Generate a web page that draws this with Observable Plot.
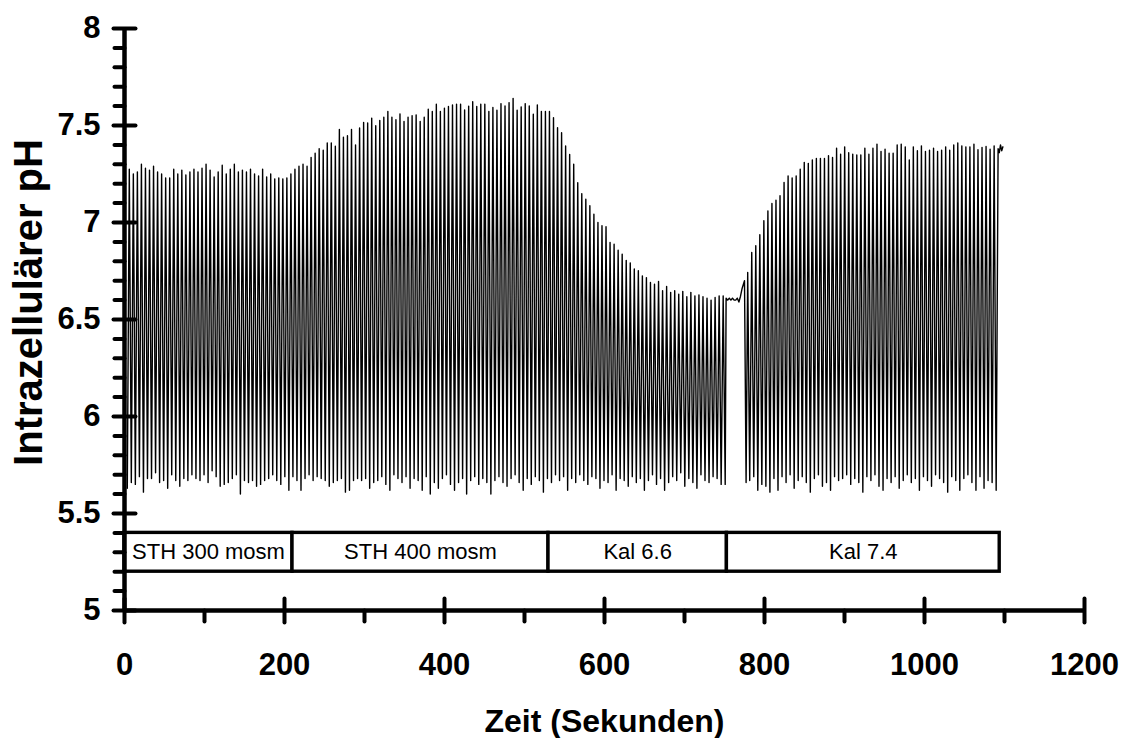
<!DOCTYPE html>
<html>
<head>
<meta charset="utf-8">
<script src="https://cdn.jsdelivr.net/npm/d3@7"></script>
<script src="https://cdn.jsdelivr.net/npm/@observablehq/plot@0.6"></script>
<style>
  html, body { margin: 0; padding: 0; background: #fff; }
  #chart svg { display: block; }
</style>
</head>
<body>
<div id="chart"></div>
<script>
// ---- Data ----
// Oscillation: one peak and one trough per cycle, cycle length (s)
const cyclePeriod = 5.05;

// Segment A (STH 300 / STH 400 / Kal 6.6), first peak time (s)
const startA = 6;
const firstTrough = { t: 3.5, v: 5.63 };
const peaksA = [
  7.275, 7.25, 7.26, 7.30, 7.28, 7.27, 7.29, 7.26, 7.25, 7.23,
  7.23, 7.275, 7.25, 7.27, 7.245, 7.26, 7.275, 7.26, 7.28, 7.30,
  7.27, 7.235, 7.26, 7.295, 7.25, 7.275, 7.30, 7.26, 7.27, 7.26,
  7.275, 7.25, 7.24, 7.275, 7.235, 7.25, 7.225, 7.23, 7.225, 7.23,
  7.25, 7.275, 7.29, 7.30, 7.29, 7.335, 7.357, 7.38, 7.373, 7.41,
  7.41, 7.393, 7.479, 7.44, 7.447, 7.479, 7.40, 7.487, 7.516, 7.513,
  7.538, 7.499, 7.526, 7.543, 7.572, 7.543, 7.53, 7.56, 7.521, 7.543,
  7.55, 7.555, 7.521, 7.543, 7.584, 7.572, 7.61, 7.572, 7.589, 7.598,
  7.606, 7.61, 7.61, 7.58, 7.60, 7.623, 7.598, 7.61, 7.61, 7.572,
  7.593, 7.579, 7.613, 7.601, 7.618, 7.64, 7.579, 7.596, 7.613, 7.601,
  7.558, 7.606, 7.572, 7.572, 7.572, 7.54, 7.489, 7.463, 7.394, 7.351,
  7.30, 7.205, 7.149, 7.12, 7.086, 7.043, 7.00, 6.983, 6.978, 6.897,
  6.888, 6.857, 6.837, 6.805, 6.792, 6.76, 6.751, 6.725, 6.716, 6.691,
  6.682, 6.696, 6.648, 6.67, 6.64, 6.648, 6.631, 6.645, 6.617, 6.64,
  6.622, 6.627, 6.617, 6.61, 6.60, 6.614, 6.622, 6.622
];
const troughsA = [
  5.66, 5.65, 5.69, 5.61, 5.68, 5.68, 5.71, 5.66, 5.67, 5.63,
  5.70, 5.67, 5.64, 5.68, 5.67, 5.70, 5.68, 5.67, 5.70, 5.66,
  5.72, 5.69, 5.64, 5.65, 5.66, 5.68, 5.70, 5.60, 5.67, 5.66,
  5.67, 5.64, 5.65, 5.67, 5.68, 5.70, 5.67, 5.65, 5.69, 5.62,
  5.69, 5.67, 5.62, 5.68, 5.70, 5.67, 5.69, 5.68, 5.67, 5.64,
  5.66, 5.67, 5.68, 5.61, 5.62, 5.67, 5.68, 5.67, 5.68, 5.63,
  5.66, 5.67, 5.69, 5.65, 5.62, 5.70, 5.68, 5.66, 5.69, 5.63,
  5.68, 5.67, 5.62, 5.69, 5.60, 5.66, 5.63, 5.68, 5.70, 5.65,
  5.62, 5.66, 5.68, 5.60, 5.67, 5.69, 5.65, 5.68, 5.66, 5.60,
  5.67, 5.69, 5.66, 5.64, 5.68, 5.70, 5.66, 5.62, 5.68, 5.65,
  5.69, 5.67, 5.61, 5.68, 5.66, 5.70, 5.67, 5.69, 5.62, 5.68,
  5.66, 5.70, 5.67, 5.65, 5.69, 5.68, 5.63, 5.67, 5.66, 5.70,
  5.62, 5.68, 5.67, 5.64, 5.69, 5.66, 5.68, 5.62, 5.67, 5.70,
  5.65, 5.68, 5.62, 5.66, 5.69, 5.67, 5.71, 5.64, 5.68, 5.66,
  5.63, 5.70, 5.67, 5.66, 5.69, 5.68, 5.65, 5.65
];

// Pause in the oscillation (flat trace near 6.6, then the rise)
const gapTimes  = [752, 754, 756, 758, 760, 762, 764, 766, 768, 770, 772, 775, 777];
const gapValues = [6.61, 6.60, 6.61, 6.60, 6.61, 6.60, 6.60, 6.61, 6.59, 6.62, 6.66, 6.70, 5.66];

// Segment B (Kal 7.4), first peak time (s)
const startB = 779;
const peaksB = [
  6.742, 6.845, 6.88, 6.937, 7.009, 7.06, 7.098, 7.115, 7.138, 7.206,
  7.24, 7.229, 7.24, 7.275, 7.31, 7.305, 7.322, 7.33, 7.33, 7.33,
  7.344, 7.335, 7.383, 7.352, 7.39, 7.36, 7.352, 7.348, 7.348, 7.383,
  7.352, 7.383, 7.404, 7.366, 7.378, 7.357, 7.357, 7.40, 7.404, 7.39,
  7.322, 7.39, 7.37, 7.395, 7.366, 7.373, 7.383, 7.366, 7.373, 7.39,
  7.373, 7.40, 7.41, 7.395, 7.39, 7.39, 7.404, 7.375, 7.387, 7.392,
  7.378, 7.395
];
const troughsB = [
  5.67, 5.69, 5.62, 5.65, 5.64, 5.61, 5.68, 5.62, 5.69, 5.66,
  5.70, 5.63, 5.67, 5.69, 5.66, 5.61, 5.68, 5.70, 5.64, 5.66,
  5.62, 5.69, 5.67, 5.68, 5.70, 5.65, 5.68, 5.66, 5.61, 5.69,
  5.67, 5.70, 5.64, 5.62, 5.68, 5.66, 5.69, 5.63, 5.67, 5.70,
  5.66, 5.68, 5.62, 5.69, 5.67, 5.64, 5.70, 5.68, 5.66, 5.61,
  5.69, 5.67, 5.62, 5.68, 5.70, 5.66, 5.62, 5.69, 5.63, 5.67,
  5.66, 5.62
];
// End of trace after last cycle
const endTimes  = [1092, 1093.5, 1095, 1096.5, 1098];
const endValues = [7.38, 7.36, 7.40, 7.37, 7.39];

// Solution phases (bar of labels)
const phaseLabels = ["STH 300 mosm", "STH 400 mosm", "Kal 6.6", "Kal 7.4"];
const phaseStart  = [0, 210, 530, 753];
const phaseEnd    = [210, 530, 753, 1094];

// Axes
const xMajorTicks = [0, 200, 400, 600, 800, 1000, 1200];
const xMinorTicks = [100, 300, 500, 700, 900, 1100];
const yMajorTicks = [5, 5.5, 6, 6.5, 7, 7.5, 8];
const yMinorTicks = [5.1, 5.2, 5.3, 5.4, 5.6, 5.7, 5.8, 5.9, 6.1, 6.2, 6.3, 6.4,
                     6.6, 6.7, 6.8, 6.9, 7.1, 7.2, 7.3, 7.4, 7.6, 7.7, 7.8, 7.9];
const xTitle = "Zeit (Sekunden)";
const yTitle = "Intrazellulärer pH";

// ---- Build trace ----
const trace = [];
trace.push(firstTrough);
peaksA.forEach((p, i) => {
  const t = startA + i * cyclePeriod;
  trace.push({ t, v: p });
  trace.push({ t: t + cyclePeriod / 2, v: troughsA[i] });
});
gapTimes.forEach((t, i) => trace.push({ t, v: gapValues[i] }));
peaksB.forEach((p, i) => {
  const t = startB + i * cyclePeriod;
  trace.push({ t, v: p });
  trace.push({ t: t + cyclePeriod / 2, v: troughsB[i] });
});
endTimes.forEach((t, i) => trace.push({ t, v: endValues[i] }));

const phases = phaseLabels.map((label, i) => ({
  label, x1: phaseStart[i], x2: phaseEnd[i], xm: (phaseStart[i] + phaseEnd[i]) / 2
}));

const FONT = "'Liberation Sans', Arial, Helvetica, sans-serif";
const stick = { draw(context, l) { context.moveTo(0, 0); context.lineTo(0, -l); } };
const tickStyle = { shape: stick, stroke: "#000", strokeWidth: 4, strokeLinecap: "round" };

const chart = Plot.plot({
  width: 1128,
  height: 738,
  marginLeft: 124,
  marginRight: 44,
  marginTop: 28,
  marginBottom: 128,
  style: { fontFamily: FONT, background: "#fff", color: "#000" },
  x: { domain: [0, 1200], axis: null },
  y: { domain: [5, 8], axis: null },
  marks: [
    // trace
    Plot.line(trace, { x: "t", y: "v", stroke: "#000", strokeWidth: 1.4, curve: "linear" }),
    // phase bar
    Plot.rect(phases, { x1: "x1", x2: "x2", y1: 5.2, y2: 5.4, fill: "#fff", stroke: "#000", strokeWidth: 3.4 }),
    Plot.text(phases, { x: "xm", y: 5.3, text: "label", fontSize: 22, fontFamily: FONT, fill: "#000", lineAnchor: "middle" }),
    // axis lines
    Plot.ruleY([5], { stroke: "#000", strokeWidth: 4.5 }),
    Plot.ruleX([0], { y1: 5, y2: 8, stroke: "#000", strokeWidth: 4.5 }),
    // x ticks: major cross the axis, minor point down
    Plot.vector(xMajorTicks, { x: d => d, y: 5, length: 24, rotate: 0, anchor: "middle", ...tickStyle }),
    Plot.vector(xMinorTicks, { x: d => d, y: 5, length: 11, rotate: 180, anchor: "start", ...tickStyle }),
    // y ticks: major cross the axis, minor point left
    Plot.vector(yMajorTicks, { x: 0, y: d => d, length: 22, rotate: 90, anchor: "middle", ...tickStyle }),
    Plot.vector(yMinorTicks, { x: 0, y: d => d, length: 10, rotate: -90, anchor: "start", ...tickStyle }),
    // tick labels
    Plot.text(xMajorTicks, { x: d => d, y: 5, text: d => String(d), dy: 42, lineAnchor: "top",
                             fontSize: 31, fontWeight: "bold", fontFamily: FONT, fill: "#000" }),
    Plot.text(yMajorTicks, { x: 0, y: d => d, text: d => String(d), dx: -24, textAnchor: "end", lineAnchor: "middle",
                             fontSize: 31, fontWeight: "bold", fontFamily: FONT, fill: "#000" }),
    // axis titles
    Plot.text([xTitle], { frameAnchor: "bottom", dy: 111, fontSize: 32, fontWeight: "bold",
                          fontFamily: FONT, fill: "#000", lineAnchor: "middle", textAnchor: "middle" }),
    Plot.text([yTitle], { frameAnchor: "left", rotate: -90, dx: -95, dy: -17, fontSize: 40, fontWeight: "bold",
                          fontFamily: FONT, fill: "#000", lineAnchor: "middle", textAnchor: "middle" })
  ]
});
document.getElementById("chart").appendChild(chart);
</script>
</body>
</html>
